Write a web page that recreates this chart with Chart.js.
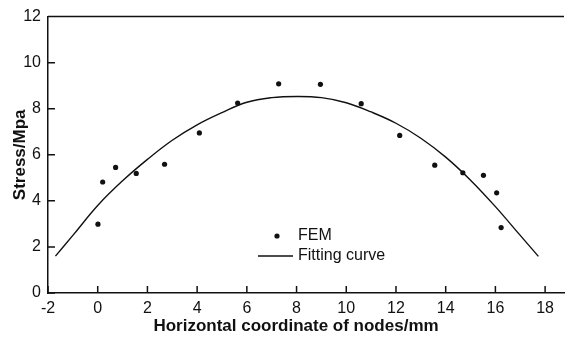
<!DOCTYPE html>
<html>
<head>
<meta charset="utf-8">
<script src="https://cdn.jsdelivr.net/npm/chart.js@4/dist/chart.umd.min.js"></script>
<style>
  html, body { margin: 0; padding: 0; background: #fff; }
  #wrap { width: 568px; height: 337px; }
</style>
</head>
<body>
<div id="wrap"><canvas id="chart" width="568" height="337"></canvas></div>
<script>
// FEM node stresses
const femX = [0.01, 0.2, 0.72, 1.55, 2.69, 4.09, 5.63, 7.28, 8.96, 10.6, 12.15, 13.56, 14.69, 15.52, 16.05, 16.23];
const femY = [2.99, 4.82, 5.45, 5.19, 5.59, 6.95, 8.25, 9.08, 9.06, 8.22, 6.84, 5.55, 5.22, 5.11, 4.35, 2.84];

// fitted curve
const fitX = [-1.7, -1, 0, 1, 2, 3, 4, 5, 6, 7, 8, 9, 10, 11, 12, 13, 14, 15, 16, 17, 17.73];
const fitY = [1.6, 2.5, 3.8, 4.87, 5.8, 6.63, 7.3, 7.83, 8.28, 8.48, 8.53, 8.48, 8.26, 7.86, 7.37, 6.72, 5.9, 4.9, 3.75, 2.5, 1.59];

const xTicks = [-2, 0, 2, 4, 6, 8, 10, 12, 14, 16, 18];
const yTicks = [0, 2, 4, 6, 8, 10, 12];

const seriesNames = ['FEM', 'Fitting curve'];
const xTitle = 'Horizontal coordinate of nodes/mm';
const yTitle = 'Stress/Mpa';

const fontFamily = 'Arial, "Liberation Sans", sans-serif';
const ink = '#111';

const toPoints = (xs, ys) => xs.map((x, i) => ({ x, y: ys[i] }));

// inward ticks, top frame line, x title and the in-plot legend
const framePlugin = {
  id: 'frame',
  afterDraw(chart) {
    const { ctx, chartArea, scales } = chart;
    ctx.save();
    ctx.strokeStyle = ink;
    ctx.lineWidth = 1.5;
    ctx.beginPath();
    ctx.moveTo(chartArea.left, chartArea.top);
    ctx.lineTo(chartArea.right, chartArea.top);
    xTicks.forEach((v) => {
      const px = scales.x.getPixelForValue(v);
      ctx.moveTo(px, chartArea.bottom);
      ctx.lineTo(px, chartArea.bottom - 7);
    });
    yTicks.forEach((v) => {
      const py = scales.y.getPixelForValue(v);
      ctx.moveTo(chartArea.left, py);
      ctx.lineTo(chartArea.left + 7, py);
    });
    ctx.stroke();

    ctx.fillStyle = ink;
    ctx.textBaseline = 'middle';
    ctx.textAlign = 'center';
    ctx.font = 'bold 17px ' + fontFamily;
    ctx.fillText(xTitle, 296, 326);

    // legend
    ctx.beginPath();
    ctx.arc(277, 236, 2.6, 0, Math.PI * 2);
    ctx.fill();
    ctx.lineWidth = 1.4;
    ctx.beginPath();
    ctx.moveTo(258, 256);
    ctx.lineTo(293, 256);
    ctx.stroke();
    ctx.font = '16px ' + fontFamily;
    ctx.textAlign = 'left';
    ctx.fillText(seriesNames[0], 298, 236);
    ctx.fillText(seriesNames[1], 298, 256);
    ctx.restore();
  }
};

new Chart(document.getElementById('chart'), {
  type: 'scatter',
  data: {
    datasets: [
      {
        label: seriesNames[0],
        data: toPoints(femX, femY),
        pointRadius: 2.6,
        pointBackgroundColor: ink,
        pointBorderWidth: 0,
        showLine: false
      },
      {
        label: seriesNames[1],
        data: toPoints(fitX, fitY),
        showLine: true,
        pointRadius: 0,
        borderColor: ink,
        borderWidth: 1.4,
        tension: 0.4,
        fill: false
      }
    ]
  },
  options: {
    responsive: false,
    animation: false,
    layout: { padding: { top: 14, right: 0, left: 0, bottom: 0 } },
    plugins: {
      legend: { display: false },
      tooltip: { enabled: false }
    },
    scales: {
      x: {
        type: 'linear',
        min: -2,
        max: 18.76,
        afterBuildTicks: (scale) => { scale.ticks = xTicks.map((value) => ({ value })); },
        afterFit: (scale) => { scale.height = 44; },
        grid: { display: false, drawTicks: false },
        border: { display: true, color: ink, width: 1.5 },
        ticks: {
          padding: 6,
          color: ink,
          maxRotation: 0,
          font: { family: fontFamily, size: 16 },
          callback: (v) => String(v)
        }
      },
      y: {
        type: 'linear',
        min: 0,
        max: 12,
        afterBuildTicks: (scale) => { scale.ticks = yTicks.map((value) => ({ value })); },
        afterFit: (scale) => { scale.width = 48; },
        grid: { display: false, drawTicks: false },
        border: { display: true, color: ink, width: 1.5 },
        ticks: {
          padding: 7,
          color: ink,
          font: { family: fontFamily, size: 16 },
          callback: (v) => String(v)
        },
        title: {
          display: true,
          text: yTitle,
          color: ink,
          font: { family: fontFamily, size: 17, weight: 'bold' },
          padding: { top: 10, bottom: 0 }
        }
      }
    }
  },
  plugins: [framePlugin]
});
</script>
</body>
</html>
